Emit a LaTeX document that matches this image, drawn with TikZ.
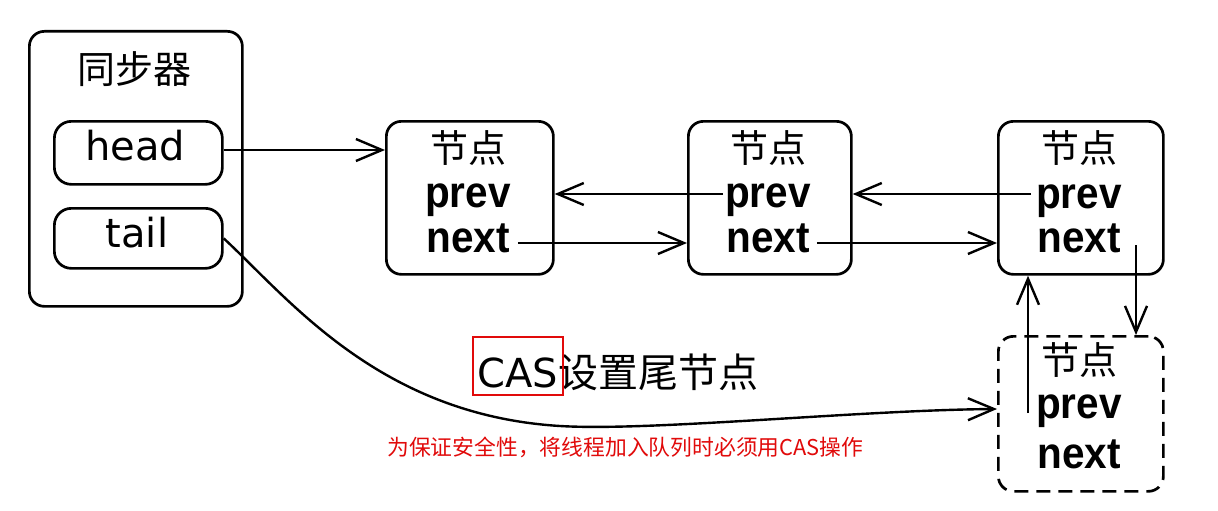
\documentclass[tikz,border=0pt]{standalone}
\usepackage{fontspec}
\setmainfont{DejaVu Sans}
\newfontfamily\cjk{Noto Sans CJK SC}
\newfontfamily\bfn[FakeStretch=0.92]{Liberation Sans}
\usetikzlibrary{arrows.meta}
\definecolor{redc}{RGB}{225,10,10}
\tikzset{
  box/.style={draw, line width=2.7pt, rounded corners=15pt, inner sep=0pt, anchor=north west},
  field/.style={draw, line width=2.7pt, rounded corners=17pt, inner sep=0pt, anchor=north west},
  dbox/.style={box, dash pattern=on 14pt off 8pt},
  cjkt/.style={inner sep=0pt, anchor=base, font=\cjk\fontsize{38}{40}\selectfont},
  fld/.style={inner sep=0pt, anchor=base, font=\bfn\bfseries\fontsize{44}{48}\selectfont},
  lbl/.style={inner sep=0pt, anchor=base, font=\fontsize{40}{44}\selectfont},
  arr/.style={line width=2.4pt, -{Straight Barb[length=26pt,width=22pt,line width=2.4pt]}},
}
\begin{document}
\begin{tikzpicture}[x=1pt,y=-1pt]
\path[fill=white] (0,0) rectangle (1218,511);
\useasboundingbox (0,0) rectangle (1218,511);

% synchronizer
\node[box, minimum width=213pt, minimum height=275pt] (sync) at (28,30) {};
\node[cjkt] (title) at (134,84) {同步器};
\node[field, minimum width=168pt, minimum height=63pt] (head) at (53,120) {};
\node[lbl] (headt) at (135,160) {head};
\node[field, minimum width=168pt, minimum height=60pt] (tail) at (53,207) {};
\node[lbl] (tailt) at (137,247) {tail};

% nodes
\node[box, minimum width=167pt, minimum height=153pt] (b1) at (385,120) {};
\node[box, minimum width=163pt, minimum height=153pt] (b2) at (687,120) {};
\node[box, minimum width=165pt, minimum height=153pt] (b3) at (997,120) {};
\node[dbox, minimum width=165pt, minimum height=155pt] (b4) at (997,335) {};

\node[cjkt] (j1) at (468,162) {节点};
\node[fld] (p1) at (468,207) {prev};
\node[fld] (n1) at (468,252) {next};
\node[cjkt] (j2) at (768,162) {节点};
\node[fld] (p2) at (768,207) {prev};
\node[fld] (n2) at (768,252) {next};
\node[cjkt] (j3) at (1079,162) {节点};
\node[fld] (p3) at (1079,208) {prev};
\node[fld] (n3) at (1079,252) {next};
\node[cjkt] (j4) at (1079,374) {节点};
\node[fld] (p4) at (1079,418) {prev};
\node[fld] (n4) at (1079,468) {next};

% level coordinates
\coordinate (rowh) at (0,150);
\coordinate (rowp) at (0,194);
\coordinate (rown) at (0,243);
\coordinate (rowc) at (0,409);
\coordinate (d1) at (1136,245);
\coordinate (u1) at (1028,413);

% connectors
\draw[arr] (head.east |- rowh) -- (b1.west |- rowh);
\draw[arr] ([xshift=-2pt]p2.west |- rowp) -- (b1.east |- rowp);
\draw[arr] ([xshift=-5pt]p3.west |- rowp) -- (b2.east |- rowp);
\draw[arr] ([xshift=8pt]n1.east |- rown) -- (b2.west |- rown);
\draw[arr] ([xshift=7pt]n2.east |- rown) -- (b3.west |- rown);
\draw[arr, line width=2.1pt] (d1) -- (d1 |- b4.north);
\draw[arr, line width=2.1pt] (u1) -- (u1 |- b3.south);
\draw[arr] (tail.east) .. controls (290,300) and (380,415) .. (560,426)
  .. controls (650,431.5) and (860,410) .. (b4.west |- rowc);

% labels
\node[lbl, anchor=base west] (cas) at (477,387) {CAS};
\node[inner sep=0pt, anchor=base west, font=\cjk\fontsize{40}{44}\selectfont] (casl) at (cas.base east) {设置尾节点};
\draw[redc, line width=2.6pt] (473,337) rectangle (563,395);
\node[inner sep=0pt, anchor=base west, text=redc, font=\cjk\fontsize{21.8}{24}\selectfont] (note) at (387,455) {为保证安全性，将线程加入队列时必须用CAS操作};
\end{tikzpicture}
\end{document}
